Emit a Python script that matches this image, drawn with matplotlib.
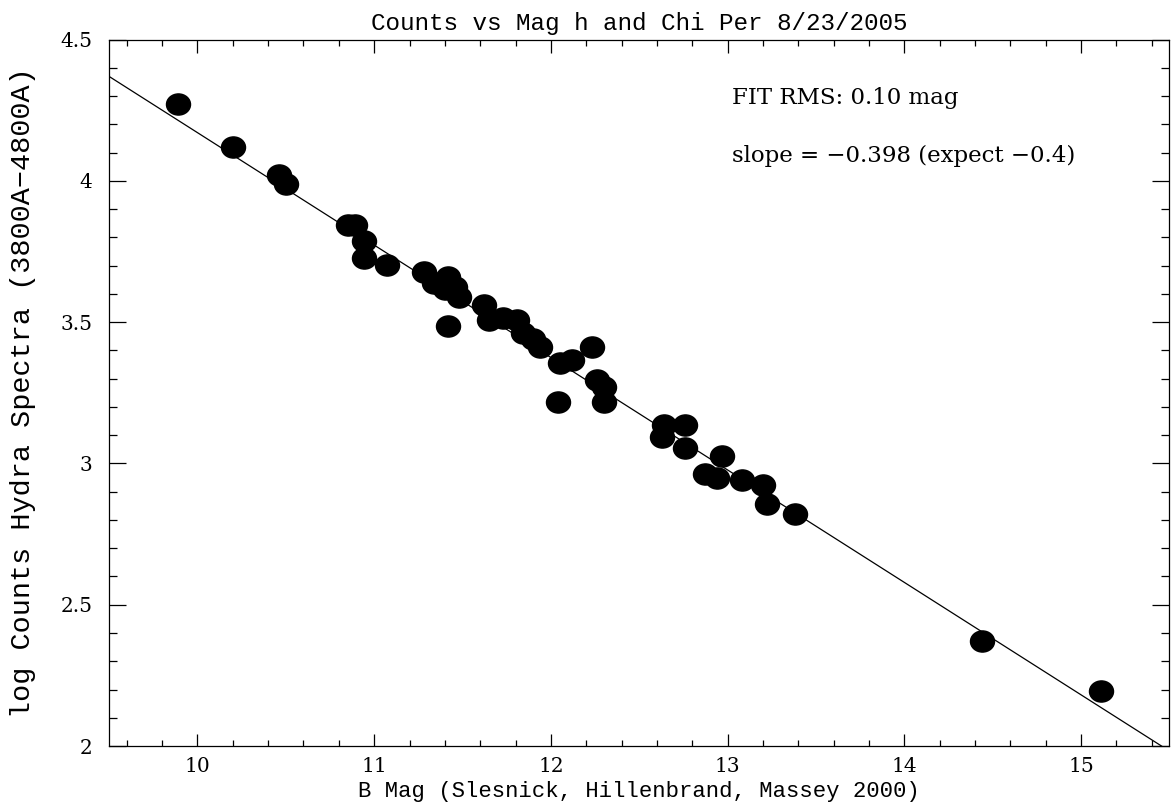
import numpy as np
import matplotlib
matplotlib.use("Agg")
import matplotlib.pyplot as plt
from matplotlib.path import Path
from matplotlib.ticker import MultipleLocator, FuncFormatter

# B magnitudes and log counts
bmag = [9.89, 10.20, 10.46, 10.50, 10.85, 10.89, 10.94, 10.94, 11.07,
        11.28, 11.34, 11.42, 11.40, 11.46, 11.48, 11.62, 11.42, 11.65,
        11.73, 11.81, 11.84, 11.90, 11.94, 12.05, 12.12, 12.23, 12.26,
        12.30, 12.30, 12.04, 12.64, 12.76, 12.63, 12.76, 12.97, 12.87,
        12.94, 13.08, 13.20, 13.22, 13.38, 14.44, 15.11]
logcounts = [4.273, 4.121, 4.022, 3.990, 3.845, 3.845, 3.788, 3.728, 3.703,
             3.678, 3.640, 3.661, 3.618, 3.625, 3.590, 3.562, 3.487, 3.508,
             3.516, 3.508, 3.462, 3.440, 3.413, 3.356, 3.367, 3.413, 3.296,
             3.271, 3.218, 3.218, 3.137, 3.137, 3.094, 3.055, 3.025, 2.962,
             2.949, 2.942, 2.925, 2.855, 2.820, 2.372, 2.195]

fit_slope = -0.398
fit_icpt = 8.151

# slightly flattened dot, like the pgplot filled circles
circ = Path.unit_circle()
blob = Path(circ.vertices * [1.0, 0.88], circ.codes)

fig = plt.figure(figsize=(11.73, 8.10), dpi=100)
ax = fig.add_axes([0.093, 0.079, 0.904, 0.872])

xx = np.array([9.5, 15.5])
ax.plot(xx, fit_icpt + fit_slope * xx, color="black", lw=0.9)
ax.plot(bmag, logcounts, ls="none", marker=blob, color="black", ms=17.3,
        mec="black")

ax.set_xlim(9.5, 15.5)
ax.set_ylim(2, 4.5)
ax.xaxis.set_major_locator(MultipleLocator(1))
ax.xaxis.set_minor_locator(MultipleLocator(0.2))
ax.yaxis.set_major_locator(MultipleLocator(0.5))
ax.yaxis.set_minor_locator(MultipleLocator(0.1))
ax.yaxis.set_major_formatter(FuncFormatter(lambda v, p: "%g" % v))
ax.tick_params(which="both", direction="in", top=True, right=True, width=0.9,
               labelsize=14.5)
ax.tick_params(axis="x", which="major", length=9, pad=8)
ax.tick_params(axis="x", which="minor", length=4.5)
ax.tick_params(axis="y", which="major", length=12, pad=12)
ax.tick_params(axis="y", which="minor", length=6)
for lab in ax.get_xticklabels() + ax.get_yticklabels():
    lab.set_family("DejaVu Serif")
for s in ax.spines.values():
    s.set_linewidth(0.9)

fig.text(0.545, 1 - 30 / 810, "Counts vs Mag h and Chi Per 8/23/2005",
         family="Liberation Mono", fontsize=17.5, ha="center", va="baseline")
fig.text(0.545, 13 / 810, "B Mag (Slesnick, Hillenbrand, Massey 2000)",
         family="Liberation Mono", fontsize=16, ha="center", va="baseline")
fig.text(23 / 1173, 1 - 393 / 810, "log Counts Hydra Spectra (3800A\u22124800A)",
         family="Liberation Mono", fontsize=20.5, rotation=90,
         ha="center", va="center")

ax.text(0.587, 0.918, "FIT RMS: 0.10 mag", transform=ax.transAxes,
        family="DejaVu Serif", fontsize=16.5, va="center")
ax.text(0.587, 0.835, "slope = \u22120.398 (expect \u22120.4)", transform=ax.transAxes,
        family="DejaVu Serif", fontsize=16.5, va="center")

fig.savefig("out.png", dpi=100)
